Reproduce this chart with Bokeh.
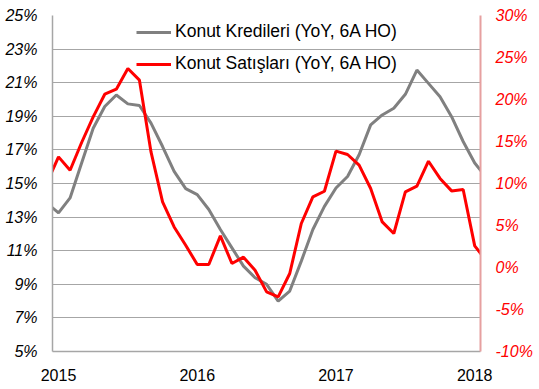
import pandas as pd
from bokeh.plotting import figure
from bokeh.models import (Range1d, LinearAxis, FixedTicker, PrintfTickFormatter,
                          Legend, LegendItem, ColumnDataSource)
from bokeh.embed import file_html
from bokeh.resources import INLINE

# ---- data (monthly, Dec 2014 .. Feb 2018) ----
months = pd.date_range("2014-12-01", "2018-02-01", freq="MS")
konut_kredileri = [13.83, 13.25, 14.14, 16.22, 18.29, 19.58, 20.27, 19.74, 19.64, 18.59,
                   17.20, 15.72, 14.69, 14.34, 13.45, 12.26, 11.17, 10.08, 9.39, 9.00,
                   8.00, 8.60, 10.38, 12.26, 13.64, 14.73, 15.42, 16.71, 18.49, 19.08,
                   19.48, 20.31, 21.75, 20.96, 20.17, 18.98, 17.50, 16.22, 15.36]
konut_satislari = [10.07, 13.17, 11.58, 14.88, 17.93, 20.63, 21.23, 23.69, 22.30, 13.76,
                   7.81, 4.83, 2.65, 0.36, 0.36, 3.76, 0.48, 1.23, -0.32, -2.90,
                   -3.50, -0.71, 5.24, 8.40, 9.08, 13.85, 13.45, 12.18, 9.40, 5.43,
                   4.05, 9.00, 9.68, 12.65, 10.60, 9.12, 9.29, 2.57, 0.80]
year_labels = [2015, 2016, 2017, 2018]
left_ticks = list(range(5, 26, 2))
right_ticks = list(range(-10, 31, 5))
series_names = ["Konut Kredileri (YoY, 6A HO)", "Konut Satışları (YoY, 6A HO)"]

# month index relative to Jan 2015
x = [(d.year - 2015) * 12 + d.month - 1 for d in months]
src = ColumnDataSource(dict(x=x, kredi=konut_kredileri, satis=konut_satislari))

FONT = "Liberation Sans"
GRID = "#A6A6A6"

p = figure(width=537, height=387, output_backend="svg", toolbar_location=None,
           x_range=Range1d(-0.52, 36.5), y_range=Range1d(5, 25),
           min_border_left=52, min_border_right=57, min_border_top=15, min_border_bottom=36,
           y_axis_location=None, x_axis_location=None)
p.extra_y_ranges = {"right": Range1d(-10, 30)}
p.outline_line_color = None
p.background_fill_color = "white"
p.border_fill_color = "white"

# left axis
la = LinearAxis(ticker=FixedTicker(ticks=left_ticks),
                formatter=PrintfTickFormatter(format="%d%%"))
la.axis_line_color = GRID
la.axis_line_width = 1.5
la.major_tick_out = 0
la.major_tick_in = 0
la.minor_tick_out = 0
la.minor_tick_in = 0
la.major_label_standoff = 15
la.major_label_text_font = FONT
la.major_label_text_font_size = "16px"
la.major_label_text_font_style = "italic"
la.major_label_text_color = "black"
p.add_layout(la, "left")

# right axis
ra = LinearAxis(y_range_name="right", ticker=FixedTicker(ticks=right_ticks),
                formatter=PrintfTickFormatter(format="%d%%"))
ra.axis_line_color = "#E6A0A0"
ra.axis_line_width = 2
ra.major_tick_out = 0
ra.major_tick_in = 0
ra.minor_tick_out = 0
ra.minor_tick_in = 0
ra.major_label_standoff = 15
ra.major_label_text_font = FONT
ra.major_label_text_font_size = "16px"
ra.major_label_text_font_style = "italic"
ra.major_label_text_color = "#FF0000"
p.add_layout(ra, "right")

# bottom axis
xticks = [(y - 2015) * 12 for y in year_labels]
ba = LinearAxis(ticker=FixedTicker(ticks=xticks),
                major_label_overrides={t: str(y) for t, y in zip(xticks, year_labels)})
ba.axis_line_color = GRID
ba.axis_line_width = 1.5
ba.major_tick_out = 0
ba.major_tick_in = 0
ba.minor_tick_out = 0
ba.minor_tick_in = 0
ba.major_label_standoff = 17
ba.major_label_text_font = FONT
ba.major_label_text_font_size = "16px"
ba.major_label_text_color = "black"
p.add_layout(ba, "below")

# grid
p.xgrid.visible = False
p.ygrid[0].ticker = FixedTicker(ticks=left_ticks)
p.ygrid[0].grid_line_color = GRID
p.ygrid[0].grid_line_width = 1.2

g = p.line("x", "kredi", source=src, line_color="#808080", line_width=3)
r = p.line("x", "satis", source=src, line_color="#FF0000", line_width=3,
           y_range_name="right")

legend = Legend(items=[LegendItem(label=series_names[0], renderers=[g]),
                       LegendItem(label=series_names[1], renderers=[r])],
                location=(84, 277))
legend.padding = 0
legend.margin = 0
legend.spacing = 11
legend.glyph_width = 35
legend.glyph_height = 20
legend.label_height = 20
legend.label_standoff = 4
legend.label_text_font = FONT
legend.label_text_font_size = "17.5px"
legend.label_text_color = "black"
legend.border_line_color = None
legend.background_fill_alpha = 0
p.add_layout(legend)

open("out.html", "w").write(file_html(p, INLINE))
